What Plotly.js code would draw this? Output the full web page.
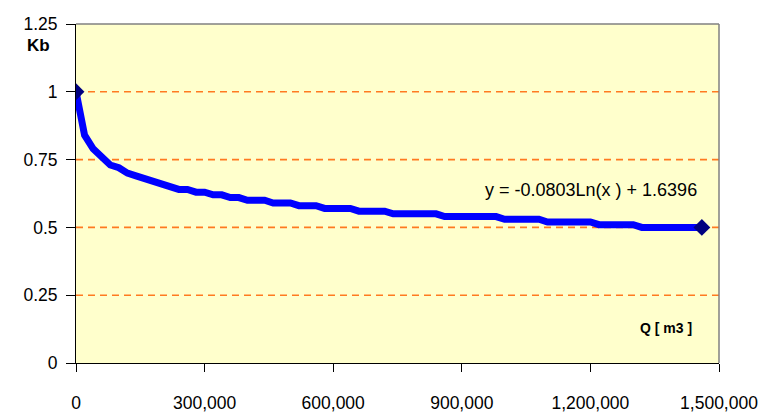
<!DOCTYPE html>
<html>
<head>
<meta charset="utf-8">
<script src="https://cdn.plot.ly/plotly-3.0.1.min.js"></script>
<style>
html,body{margin:0;padding:0;background:#fff;}
#chart{width:763px;height:412px;}
</style>
</head>
<body>
<div id="chart"></div>
<script>
// Q [m3]
const qValues = [0, 20000, 40000, 60000, 80000, 100000, 120000, 140000, 160000, 180000,
  200000, 220000, 240000, 260000, 280000, 300000, 320000, 340000, 360000, 380000,
  400000, 420000, 440000, 460000, 480000, 500000, 520000, 540000, 560000, 580000,
  600000, 620000, 640000, 660000, 680000, 700000, 720000, 740000, 760000, 780000,
  800000, 820000, 840000, 860000, 880000, 900000, 920000, 940000, 960000, 980000,
  1000000, 1020000, 1040000, 1060000, 1080000, 1100000, 1120000, 1140000, 1160000, 1180000,
  1200000, 1220000, 1240000, 1260000, 1280000, 1300000, 1320000, 1340000, 1360000, 1380000,
  1400000, 1420000, 1440000, 1460000];
// Kb
const kbValues = [1.00, 0.84, 0.79, 0.76, 0.73, 0.72, 0.70, 0.69, 0.68, 0.67,
  0.66, 0.65, 0.64, 0.64, 0.63, 0.63, 0.62, 0.62, 0.61, 0.61,
  0.60, 0.60, 0.60, 0.59, 0.59, 0.59, 0.58, 0.58, 0.58, 0.57,
  0.57, 0.57, 0.57, 0.56, 0.56, 0.56, 0.56, 0.55, 0.55, 0.55,
  0.55, 0.55, 0.55, 0.54, 0.54, 0.54, 0.54, 0.54, 0.54, 0.54,
  0.53, 0.53, 0.53, 0.53, 0.53, 0.52, 0.52, 0.52, 0.52, 0.52,
  0.52, 0.51, 0.51, 0.51, 0.51, 0.51, 0.50, 0.50, 0.50, 0.50,
  0.50, 0.50, 0.50, 0.50];
const xTickVals = [0, 300000, 600000, 900000, 1200000, 1500000];
const yTickVals = [0, 0.25, 0.5, 0.75, 1, 1.25];
const gridVals = [0.25, 0.5, 0.75, 1];
const yAxisLabel = 'Kb';
const xAxisLabel = 'Q [ m3 ]';
const equationText = 'y = -0.0803Ln(x ) + 1.6396';

const FONT = 'Liberation Sans, Arial, sans-serif';
const last = qValues.length - 1;

const traces = [
  {
    x: qValues, y: kbValues, type: 'scatter', mode: 'lines',
    line: {color: '#0000FF', width: 7},
    hoverinfo: 'skip', showlegend: false
  },
  {
    x: [qValues[0], qValues[last]], y: [kbValues[0], kbValues[last]],
    type: 'scatter', mode: 'markers',
    marker: {symbol: 'diamond', color: '#000080', size: 13},
    hoverinfo: 'skip', showlegend: false
  }
];

const gridShapes = gridVals.map(v => ({
  type: 'line', xref: 'paper', yref: 'y', x0: 0, x1: 1, y0: v, y1: v,
  line: {color: '#FF7A20', width: 1.6, dash: '7px,5px'}, layer: 'below'
}));

const layout = {
  width: 763, height: 412,
  margin: {l: 76, r: 44, t: 24, b: 49, pad: 0},
  paper_bgcolor: '#FFFFFF',
  plot_bgcolor: '#FFFFCC',
  font: {family: FONT, size: 17.5, color: '#000000'},
  showlegend: false,
  xaxis: {
    range: [0, 1500000], tickvals: xTickVals, tickformat: ',',
    showgrid: false, zeroline: false,
    showline: true, linecolor: '#000000', linewidth: 1,
    ticks: 'outside', ticklen: 8, tickcolor: '#000000', tickwidth: 1,
    ticklabelstandoff: 16,
    tickfont: {family: FONT, size: 17.5, color: '#000000'}
  },
  yaxis: {
    range: [0, 1.25], tickvals: yTickVals,
    showgrid: false, zeroline: false,
    showline: true, linecolor: '#000000', linewidth: 1,
    ticks: 'outside', ticklen: 9, tickcolor: '#000000', tickwidth: 1,
    ticklabelstandoff: 5,
    tickfont: {family: FONT, size: 17.5, color: '#000000'}
  },
  shapes: gridShapes.concat([
    {type: 'line', xref: 'paper', yref: 'paper', x0: 0, x1: 1, y0: 1, y1: 1,
     line: {color: '#808080', width: 1.5}, layer: 'above'},
    {type: 'line', xref: 'paper', yref: 'paper', x0: 1, x1: 1, y0: 0, y1: 1,
     line: {color: '#808080', width: 1.5}, layer: 'above'}
  ]),
  annotations: [
    {text: '<b>' + yAxisLabel + '</b>', xref: 'paper', yref: 'paper',
     x: -0.059, y: 0.938, xanchor: 'center', yanchor: 'middle', showarrow: false,
     font: {family: FONT, size: 17, color: '#000000'}},
    {text: '<b>' + xAxisLabel + '</b>', xref: 'paper', yref: 'paper',
     x: 0.917, y: 0.103, xanchor: 'center', yanchor: 'middle', showarrow: false,
     font: {family: FONT, size: 14, color: '#000000'}},
    {text: equationText, xref: 'paper', yref: 'paper',
     x: 0.801, y: 0.51, xanchor: 'center', yanchor: 'middle', showarrow: false,
     font: {family: FONT, size: 18, color: '#000000'}}
  ]
};

Plotly.newPlot('chart', traces, layout, {staticPlot: true, displayModeBar: false});
</script>
</body>
</html>
